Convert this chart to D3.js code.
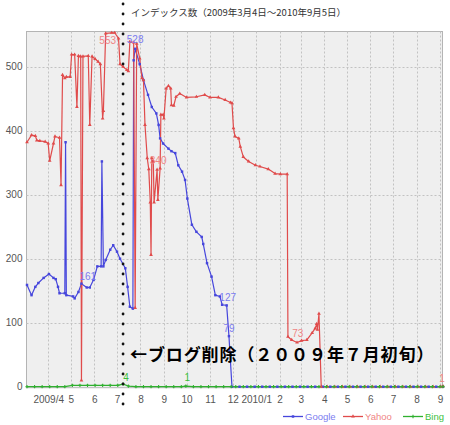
<!DOCTYPE html>
<html>
<head>
<meta charset="utf-8">
<script src="https://cdn.jsdelivr.net/npm/d3@7"></script>
<style>
  body { margin: 0; background: #fff; }
  svg text { font-family: "Liberation Sans", Arial, sans-serif; }
</style>
</head>
<body>
<div id="chart"></div>
<script>
// values (date, index count)
var googleData = [
  ["2009-03-04",159],["2009-03-10",143],["2009-03-15",156],["2009-03-19",162],["2009-03-26",170],
  ["2009-04-02",176],["2009-04-08",170],["2009-04-11",168],["2009-04-14",156],["2009-04-16",146],
  ["2009-04-23",146],["2009-04-24",382],["2009-04-25",143],["2009-05-04",141],["2009-05-06",138],
  ["2009-05-11",148],["2009-05-15",161],["2009-05-22",155],["2009-05-26",155],["2009-05-31",167],
  ["2009-06-05",188],["2009-06-10",188],["2009-06-11",352],["2009-06-13",188],["2009-06-16",198],
  ["2009-06-22",214],["2009-06-26",221],["2009-07-01",211],["2009-07-05",200],["2009-07-12",185],
  ["2009-07-15",156],["2009-07-18",125],["2009-07-22",122],["2009-07-23",510],["2009-07-25",528],
  ["2009-07-31",504],["2009-08-05",479],["2009-08-11",456],["2009-08-16",437],["2009-08-22",427],
  ["2009-08-25",409],["2009-08-27",388],["2009-08-31",380],["2009-09-07",372],["2009-09-11",368],
  ["2009-09-16",365],["2009-09-20",346],["2009-09-25",336],["2009-09-29",323],["2009-10-02",294],
  ["2009-10-08",253],["2009-10-14",242],["2009-10-21",234],["2009-10-23",223],["2009-10-28",193],
  ["2009-11-03",172],["2009-11-08",143],["2009-11-14",141],["2009-11-17",128],["2009-11-23",127],
  ["2009-11-26",79],["2009-11-30",0],["2009-12-10",0],["2009-12-20",0],["2009-12-30",0],
  ["2010-01-09",0],["2010-01-19",0],["2010-01-29",0],["2010-02-08",0],["2010-02-18",0],
  ["2010-02-28",0],["2010-03-10",0],["2010-03-20",0],["2010-03-30",0],["2010-04-09",0],
  ["2010-04-19",0],["2010-04-29",0],["2010-05-09",0],["2010-05-19",0],["2010-05-29",0],
  ["2010-06-08",0],["2010-06-18",0],["2010-06-28",0],["2010-07-08",0],["2010-07-18",0],
  ["2010-07-28",0],["2010-08-07",0],["2010-08-17",0],["2010-08-27",0],["2010-09-05",0]
]

var yahooData = [
  ["2009-03-04",382],["2009-03-10",393],["2009-03-15",392],["2009-03-17",385],["2009-03-21",384],
  ["2009-03-28",383],["2009-04-01",380],["2009-04-03",353],["2009-04-08",380],["2009-04-10",391],
  ["2009-04-16",389],["2009-04-18",315],["2009-04-20",487],["2009-04-23",482],["2009-04-25",484],
  ["2009-04-30",484],["2009-05-02",519],["2009-05-06",519],["2009-05-09",437],["2009-05-11",517],
  ["2009-05-14",516],["2009-05-15",10],["2009-05-17",516],["2009-05-24",517],["2009-05-26",409],
  ["2009-05-29",516],["2009-06-02",512],["2009-06-06",508],["2009-06-09",504],["2009-06-12",419],
  ["2009-06-13",431],["2009-06-16",552],["2009-06-24",553],["2009-06-28",553],["2009-07-03",544],
  ["2009-07-05",504],["2009-07-09",500],["2009-07-14",495],["2009-07-16",493],["2009-07-18",539],
  ["2009-07-23",538],["2009-07-25",123],["2009-07-27",536],["2009-07-31",513],["2009-08-03",482],
  ["2009-08-05",479],["2009-08-07",409],["2009-08-10",357],["2009-08-12",340],["2009-08-14",288],
  ["2009-08-15",206],["2009-08-16",357],["2009-08-18",352],["2009-08-19",288],["2009-08-23",339],
  ["2009-08-24",292],["2009-08-27",341],["2009-08-28",425],["2009-08-31",425],["2009-09-01",419],
  ["2009-09-04",466],["2009-09-07",470],["2009-09-10",466],["2009-09-11",440],["2009-09-14",439],
  ["2009-09-17",453],["2009-09-22",458],["2009-10-01",452],["2009-10-14",453],["2009-10-25",456],
  ["2009-11-01",452],["2009-11-12",452],["2009-11-21",448],["2009-11-28",444],["2009-11-30",443],
  ["2009-12-02",404],["2009-12-04",391],["2009-12-09",388],["2009-12-11",375],["2009-12-15",359],
  ["2009-12-22",352],["2009-12-31",346],["2010-01-06",344],["2010-01-17",340],["2010-01-26",333],
  ["2010-02-02",332],["2010-02-11",332],["2010-02-12",78],["2010-02-17",73],["2010-02-24",69],
  ["2010-03-02",72],["2010-03-09",73],["2010-03-16",84],["2010-03-20",91],["2010-03-22",98],
  ["2010-03-23",89],["2010-03-25",114],["2010-03-28",0],["2010-04-05",0],["2010-04-15",0],
  ["2010-04-25",0],["2010-05-05",0],["2010-05-15",0],["2010-05-25",0],["2010-06-04",0],
  ["2010-06-14",0],["2010-06-24",0],["2010-07-04",0],["2010-07-14",0],["2010-07-24",0],
  ["2010-08-03",0],["2010-08-13",0],["2010-08-23",0],["2010-09-02",0],["2010-09-05",1]
]

var bingData = [
  ["2009-03-04",0],["2009-03-14",0],["2009-03-24",0],["2009-04-03",0],["2009-04-13",0],
  ["2009-04-23",0],["2009-05-03",2],["2009-05-13",2],["2009-05-23",2],["2009-06-02",2],
  ["2009-06-12",2],["2009-06-22",2],["2009-07-02",2],["2009-07-09",4],["2009-07-16",1],
  ["2009-07-26",0],["2009-08-05",0],["2009-08-15",0],["2009-08-25",0],["2009-09-04",0],
  ["2009-09-14",0],["2009-09-24",0],["2009-09-30",1],["2009-10-10",0],["2009-10-20",0],
  ["2009-10-30",0],["2009-11-09",0],["2009-11-19",0],["2009-11-29",0],["2009-12-05",0],
  ["2009-12-15",0],["2009-12-25",0],["2010-01-04",0],["2010-01-14",0],["2010-01-24",0],
  ["2010-02-03",0],["2010-02-13",0],["2010-02-23",0],["2010-03-05",0],["2010-03-15",0],
  ["2010-03-25",0],["2010-04-04",0],["2010-04-14",0],["2010-04-24",0],["2010-05-04",0],
  ["2010-05-14",0],["2010-05-24",0],["2010-06-03",0],["2010-06-13",0],["2010-06-23",0],
  ["2010-07-03",0],["2010-07-13",0],["2010-07-23",0],["2010-08-02",0],["2010-08-12",0],
  ["2010-08-22",0],["2010-09-01",0],["2010-09-05",0]
]

// values printed next to the lines
var pointLabels = [
  ["Yahoo","2009-06-24",553],["Google","2009-07-25",528],["Yahoo","2009-08-12",340],
  ["Google","2009-05-15",161],["Google","2009-11-23",127],["Google","2009-11-26",79],
  ["Yahoo","2010-02-17",73],["Bing","2009-07-09",4],["Bing","2009-09-30",1],["Yahoo","2010-09-05",1]
]

var xTickDates = ["2009-04-01","2009-05-01","2009-06-01","2009-07-01","2009-08-01","2009-09-01",
  "2009-10-01","2009-11-01","2009-12-01","2010-01-01","2010-02-01","2010-03-01","2010-04-01",
  "2010-05-01","2010-06-01","2010-07-01","2010-08-01","2010-09-01"]
var xTickLabels = ["2009/4","5","6","7","8","9","10","11","12","2010/1","2","3","4","5","6","7","8","9"]
var yTicks = [0, 100, 200, 300, 400, 500]

var titleText = "インデックス数（2009年3月4日～2010年9月5日）"
var noteText = "←ブログ削除（２００９年７月初旬）"
var deleteDate = "2009-07-09"

var width = 450, height = 425
var margin = {top: 31.5, right: 7.5, bottom: 38.3, left: 26.5}
var parse = d3.timeParse("%Y-%m-%d")

var svg = d3.select("#chart")
  .append("svg")
  .attr("width", width)
  .attr("height", height)

// scales
var xScale = d3.scaleTime()
  .domain([parse("2009-03-04"), parse("2010-09-05")])
  .range([margin.left + 0.5, width - margin.right + 0.5])

var yScale = d3.scaleLinear()
  .domain([0, 555])
  .range([height - margin.bottom, margin.top])

// plot background
svg.append("rect")
  .attr("x", margin.left)
  .attr("y", margin.top)
  .attr("width", width - margin.left - margin.right)
  .attr("height", height - margin.top - margin.bottom + 1)
  .attr("fill", "#efefef")
  .attr("stroke", "#b4b4b4")

// Y grid
svg.append("g")
  .attr("class", "grid")
  .selectAll("line")
  .data(yTicks.filter(d => d > 0))
  .enter()
  .append("line")
  .attr("x1", margin.left)
  .attr("x2", width - margin.right)
  .attr("y1", d => Math.round(yScale(d)) + 0.5)
  .attr("y2", d => Math.round(yScale(d)) + 0.5)
  .attr("stroke", "#c2c2c2")
  .attr("stroke-dasharray", "2,2")

// X grid
svg.append("g")
  .attr("class", "grid")
  .selectAll("line")
  .data(xTickDates)
  .enter()
  .append("line")
  .attr("x1", d => Math.round(xScale(parse(d))) + 0.5)
  .attr("x2", d => Math.round(xScale(parse(d))) + 0.5)
  .attr("y1", margin.top)
  .attr("y2", height - margin.bottom)
  .attr("stroke", "#c2c2c2")
  .attr("stroke-dasharray", "2,2")

// Y axis labels
var yAxis = d3.axisLeft(yScale)
  .tickValues(yTicks)
  .tickSize(0)
  .tickPadding(4)
svg.append("g")
  .attr("transform", `translate(${margin.left},0)`)
  .attr("class", "y-axis")
  .call(yAxis)
  .call(g => g.select(".domain").remove())
  .selectAll("text")
  .style("font-size", "10px")
  .attr("fill", "#555")

// X axis labels
var xAxis = d3.axisBottom(xScale)
  .tickValues(xTickDates.map(parse))
  .tickSize(0)
  .tickPadding(9)
  .tickFormat((d, i) => xTickLabels[i])
svg.append("g")
  .attr("transform", `translate(0,${height - margin.bottom})`)
  .attr("class", "x-axis")
  .call(xAxis)
  .call(g => g.select(".domain").remove())
  .selectAll("text")
  .style("font-size", "10px")
  .attr("fill", "#555")

var series = [
  {name: "Google", data: googleData, color: "#4646dc", label: "#7b7bf0", symbol: d3.symbolSquare, size: 6},
  {name: "Yahoo", data: yahooData, color: "#e04b4b", label: "#f08585", symbol: d3.symbolTriangle, size: 6},
  {name: "Bing", data: bingData, color: "#2fb02f", label: "#3cbf3c", symbol: d3.symbolCross, size: 6}
]

var line = d3.line()
  .x(d => xScale(parse(d[0])))
  .y(d => yScale(d[1]))

var linesG = svg.append("g").attr("class", "lines")

series.forEach(s => {
  linesG.append("path")
    .datum(s.data)
    .attr("class", "line " + s.name)
    .attr("d", line)
    .attr("fill", "none")
    .attr("stroke", s.color)
    .attr("stroke-width", 1.2)
    .attr("stroke-linejoin", "round")
})

series.forEach(s => {
  linesG.append("g")
    .selectAll("path")
    .data(s.data)
    .enter()
    .append("path")
    .attr("class", "dot " + s.name)
    .attr("transform", d => `translate(${xScale(parse(d[0]))},${yScale(d[1])})`)
    .attr("d", d3.symbol().type(s.symbol).size(s.size))
    .attr("fill", s.color)
})

// value labels
var labelOffsets = {
  "Yahoo553": [-4, 11, "middle"], "Google528": [0, -6, "middle"], "Yahoo340": [1, -5, "start"],
  "Google161": [-2, -4, "start"], "Google127": [1, -4, "middle"], "Google79": [0, -4, "middle"],
  "Yahoo73": [6, -3, "middle"], "Bing4": [3, -3, "middle"], "Bing1": [1.5, -5, "middle"],
  "Yahoo1": [-1, -4, "middle"]
}
svg.append("g")
  .attr("class", "value-labels")
  .selectAll("text")
  .data(pointLabels)
  .enter()
  .append("text")
  .attr("x", d => xScale(parse(d[1])) + labelOffsets[d[0] + d[2]][0])
  .attr("y", d => yScale(d[2]) + labelOffsets[d[0] + d[2]][1])
  .attr("text-anchor", d => labelOffsets[d[0] + d[2]][2])
  .style("font-size", "10px")
  .attr("fill", d => series.find(s => s.name == d[0]).label)
  .text(d => d[2])

// dotted marker for the blog deletion
svg.append("line")
  .attr("x1", xScale(parse(deleteDate)))
  .attr("x2", xScale(parse(deleteDate)))
  .attr("y1", 4)
  .attr("y2", 408)
  .attr("stroke", "#111")
  .attr("stroke-width", 2.8)
  .attr("stroke-linecap", "round")
  .attr("stroke-dasharray", "0,10")

svg.append("text")
  .attr("x", 130)
  .attr("y", 361)
  .style("font-family", "'Noto Sans CJK JP', sans-serif")
  .style("font-size", "17px")
  .style("font-weight", "bold")
  .style("letter-spacing", "0.9px")
  .attr("fill", "#000")
  .text(noteText)

// title
svg.append("text")
  .attr("x", 131)
  .attr("y", 16)
  .style("font-family", "'Noto Sans CJK JP', sans-serif")
  .style("font-size", "9.5px")
  .attr("fill", "#333")
  .text(titleText)

// legend
var legendX = [283, 343, 403]
var legend = svg.append("g").attr("class", "legend")
series.forEach((s, i) => {
  var lx = legendX[i]
  legend.append("line")
    .attr("x1", lx).attr("x2", lx + 20)
    .attr("y1", 416.5).attr("y2", 416.5)
    .attr("stroke", s.color)
    .attr("stroke-width", 1.3)
  legend.append("path")
    .attr("transform", `translate(${lx + 10},416.5)`)
    .attr("d", d3.symbol().type(s.symbol).size(s.size))
    .attr("fill", s.color)
  legend.append("text")
    .attr("x", lx + 22)
    .attr("y", 420)
    .style("font-size", "9.5px")
    .attr("fill", s.label)
    .text(s.name)
})
</script>
</body>
</html>
